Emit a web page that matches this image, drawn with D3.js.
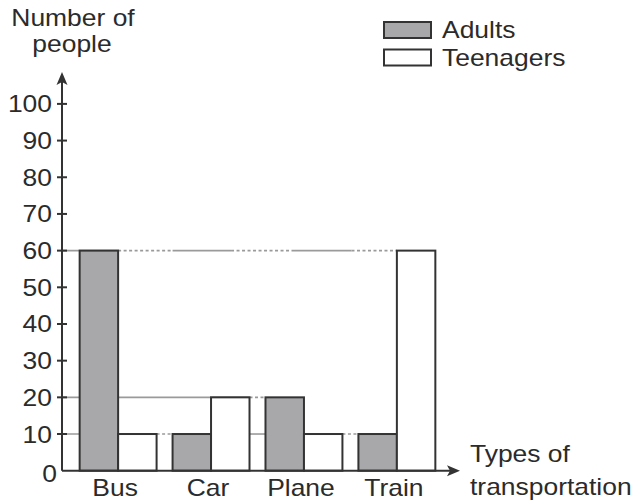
<!DOCTYPE html>
<html>
<head>
<meta charset="utf-8">
<script src="https://cdn.jsdelivr.net/npm/d3@7"></script>
<style>
  body { margin: 0; background: #fff; }
  text { font-family: "Liberation Sans", Arial, sans-serif; fill: #2b2b2b; }
</style>
</head>
<body>
<div id="chart"></div>
<script>
var svgWidth = 640;
var svgHeight = 503;

// data
var categories = ["Bus", "Car", "Plane", "Train"];
var seriesNames = ["Adults", "Teenagers"];
var adults = [60, 10, 20, 10];
var teenagers = [10, 20, 10, 60];
var yTicks = [0, 10, 20, 30, 40, 50, 60, 70, 80, 90, 100];

var fills = { Adults: "#a8a8ab", Teenagers: "#ffffff" };
var stroke = "#333";
var stretch = 1.15;

var svg = d3.select("#chart")
    .append("svg")
    .attr("width", svgWidth)
    .attr("height", svgHeight);

var axisX = 62;

var yScale = d3.scaleLinear()
    .domain([0, 100])
    .range([470.7, 103.9]);

var x0 = d3.scaleBand()
    .domain(categories)
    .range([axisX, 453])
    .paddingInner(0.172)
    .paddingOuter(0.19);

var x1 = d3.scaleBand()
    .domain(seriesNames)
    .range([0, x0.bandwidth()]);

var rows = categories.map(function(c, i) {
    return { cat: c, Adults: adults[i], Teenagers: teenagers[i] };
});

// stretched text helper
function label(x, y, str, anchor, size) {
    var t = svg.append("text")
        .attr("transform", `translate(${x},${y}) scale(${stretch},1)`)
        .attr("text-anchor", anchor || "start")
        .style("font-size", (size || 23) + "px")
        .text(str);
    return t;
}

// reference lines behind the bars
var grid = svg.append("g").attr("stroke", "#9a9a9a").attr("stroke-width", 1.6);

function hline(v, xa, xb, dotted) {
    grid.append("line")
        .attr("x1", xa).attr("x2", xb)
        .attr("y1", yScale(v)).attr("y2", yScale(v))
        .attr("stroke-dasharray", dotted ? "3,2.5" : null);
}

// 60 line: axis to train teenager bar
var trainTeenX = x0("Train") + x1("Teenagers");
hline(60, axisX, x0("Bus") + x1("Teenagers"), false);
hline(60, x0("Bus") + x1("Teenagers"), x0("Car"), true);
hline(60, x0("Car"), x0("Car") + x1("Teenagers") + 20, false);
hline(60, x0("Car") + x1("Teenagers") + 20, x0("Plane") + 26, true);
hline(60, x0("Plane") + 26, x0("Plane") + 86, false);
hline(60, x0("Plane") + 86, trainTeenX, true);

// 20 line: axis to plane adult bar
hline(20, axisX, x0("Car") + x0.bandwidth(), false);
hline(20, x0("Car") + x0.bandwidth(), x0("Plane"), true);

// 10 line: axis to train adult bar
hline(10, axisX, x0("Bus") + x0.bandwidth(), false);
hline(10, x0("Bus") + x0.bandwidth(), x0("Car"), true);
hline(10, x0("Car") + x0.bandwidth(), x0("Plane"), false);
hline(10, x0("Plane") + x0.bandwidth(), x0("Train"), true);

// bars
var groups = svg.selectAll(".grp")
    .data(rows)
    .enter()
    .append("g")
    .attr("transform", d => `translate(${x0(d.cat)},0)`);

groups.selectAll("rect")
    .data(d => seriesNames.map(s => ({ key: s, value: d[s] })))
    .enter()
    .append("rect")
    .attr("x", d => x1(d.key))
    .attr("y", d => yScale(d.value))
    .attr("width", x1.bandwidth())
    .attr("height", d => yScale(0) - yScale(d.value))
    .attr("fill", d => fills[d.key])
    .attr("stroke", stroke)
    .attr("stroke-width", 2);

// axes
var axisG = svg.append("g").attr("stroke", stroke).attr("stroke-width", 2);
axisG.append("line")
    .attr("x1", axisX).attr("x2", axisX)
    .attr("y1", yScale(0)).attr("y2", 80);
axisG.append("line")
    .attr("x1", axisX).attr("x2", 452)
    .attr("y1", yScale(0)).attr("y2", yScale(0));

svg.append("path")
    .attr("d", `M${axisX},72 L${axisX - 5.5},85 L${axisX},82 L${axisX + 5.5},85 Z`)
    .attr("fill", stroke);
svg.append("path")
    .attr("d", `M460,${yScale(0)} L447,${yScale(0) - 5.5} L450,${yScale(0)} L447,${yScale(0) + 5.5} Z`)
    .attr("fill", stroke);

// y ticks
yTicks.forEach(function(t) {
    if (t > 0) {
        axisG.append("line")
            .attr("x1", axisX - 5).attr("x2", axisX + 5)
            .attr("y1", yScale(t)).attr("y2", yScale(t));
        label(52, yScale(t) + 8.5, t, "end");
    } else {
        label(57, yScale(t) + 11, t, "end");
    }
});

// category labels
categories.forEach(function(c) {
    label(x0(c) + x0.bandwidth() / 2 - 3, 496, c, "middle");
});

// axis titles
label(73, 26, "Number of", "middle");
label(72, 52, "people", "middle");
label(470, 462, "Types of", "start");
label(470, 495, "transportation", "start");

// legend
seriesNames.forEach(function(s, i) {
    svg.append("rect")
        .attr("x", 384)
        .attr("y", 22 + i * 27.5)
        .attr("width", 47)
        .attr("height", 16)
        .attr("fill", fills[s])
        .attr("stroke", stroke)
        .attr("stroke-width", 2);
    label(442, 38 + i * 27.5, s, "start");
});
</script>
</body>
</html>
